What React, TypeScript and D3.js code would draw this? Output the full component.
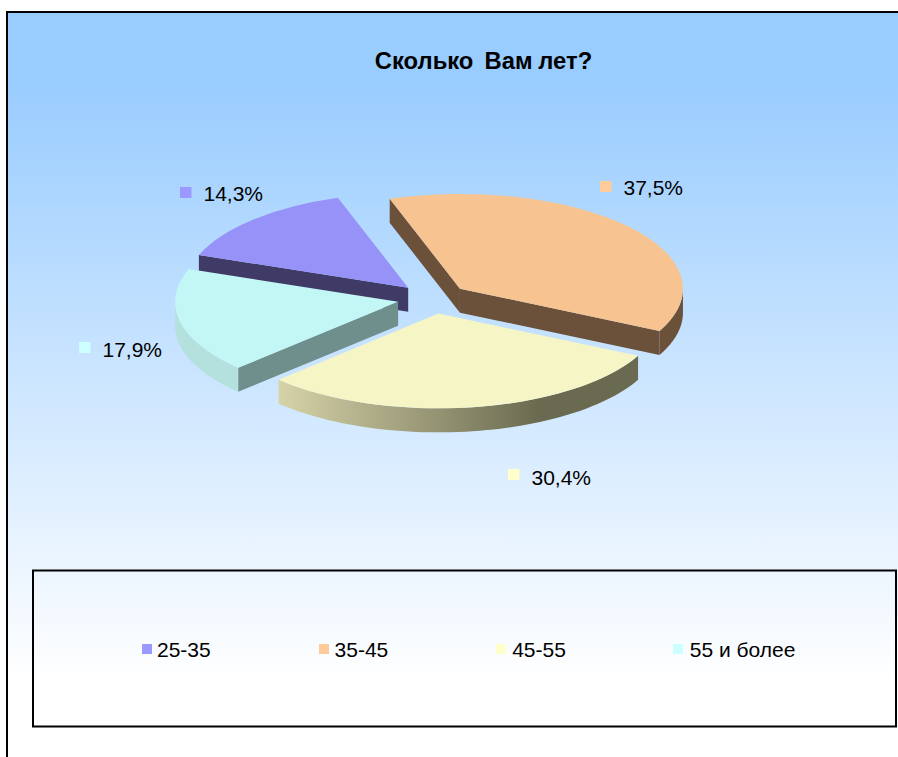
import React from 'react';
import * as d3 from 'd3';

const title = 'Сколько  Вам лет?';
const categories = ['25-35', '35-45', '45-55', '55 и более'];
const shares = [14.3, 37.5, 30.4, 17.9];

const keyColors = ['#9999ff', '#ffcc99', '#ffffcc', '#ccffff'];
const topColors = ['#9692f8', '#f6c391', '#f5f5c6', '#c3f7f5'];
const radialColors = ['#3f3b66', '#6b5139', '#6a6a50', '#6f8f8c'];
// [left, right] of the outer wall shading
const wallColors = [['#3f3b66', '#3f3b66'], ['#6b5139', '#6b5139'], ['#d8d5aa', '#6a6a50'], ['#b4e1dd', '#acd8d4']];
const labelSpots = [[180, 187], [600, 181], [508, 469], [79, 342]];
const labelDrop = [14.3, 14.3, 16, 15];

const width = 898;
const height = 757;
const cx = 433;
const cy = 298.6;
const rx = 223;
const tilt = 0.425;
const depth = 24;
const explode = 0.16;
const firstAngle = (-69.8 * Math.PI) / 180;

const pie = d3.pie<number>().sort(null).startAngle(firstAngle).endAngle(firstAngle + 2 * Math.PI);
const arcs = pie(shares);
const topArc = d3.arc<d3.PieArcDatum<number>>().innerRadius(0).outerRadius(rx);
const line = d3.line();
const pct = (v: number) => v.toFixed(1).replace('.', ',') + '%';

// centre of a slice after pulling it out along its mid angle
const centre = (a: d3.PieArcDatum<number>) => {
  const mid = (a.startAngle + a.endAngle) / 2;
  return [cx + rx * explode * Math.sin(mid), cy - rx * tilt * explode * Math.cos(mid)];
};
const rim = (c: number[], t: number): [number, number] => [c[0] + rx * Math.sin(t), c[1] - rx * tilt * Math.cos(t)];
const down = (p: number[]): [number, number] => [p[0], p[1] + depth];

// the part of the rim that faces the viewer (t between 90 and 270 degrees)
const outerWall = (a: d3.PieArcDatum<number>) => {
  const c = centre(a);
  const from = Math.max(a.startAngle, Math.PI / 2);
  const to = Math.min(a.endAngle, (3 * Math.PI) / 2);
  if (from >= to) return null;
  const top = d3.range(0, 61).map(i => rim(c, from + ((to - from) * i) / 60));
  return line([...top, ...top.slice().reverse().map(down)]) + 'Z';
};
const radialWall = (c: number[], t: number) => {
  const p = rim(c, t);
  return line([c as [number, number], p, down(p), down(c)]) + 'Z';
};

export default function App() {
  const font = '"Liberation Sans", Arial, sans-serif';
  return (
    <svg width={width} height={height} style={{ position: 'absolute', left: 0, top: 0 }} fontFamily={font}>
      <defs>
        <linearGradient id="bg" gradientUnits="userSpaceOnUse" x1="0" y1="80" x2="0" y2="680">
          <stop offset="0" stopColor="#99ccff" />
          <stop offset="1" stopColor="#ffffff" />
        </linearGradient>
        {arcs.map((a, i) => (
          <linearGradient key={i} id={`wall${i}`} gradientUnits="userSpaceOnUse"
            x1={centre(a)[0] - rx} x2={centre(a)[0] + rx * 0.45} y1="0" y2="0">
            <stop offset="0.18" stopColor={wallColors[i][0]} />
            <stop offset="1" stopColor={wallColors[i][1]} />
          </linearGradient>
        ))}
      </defs>

      <rect x={7} y={12} width={width} height={height} fill="url(#bg)" stroke="#000" strokeWidth={2} />

      <text x={483.5} y={69} textAnchor="middle" fontSize={23.8} fontWeight="bold" wordSpacing={-1} style={{ whiteSpace: 'pre' }}>{title}</text>

      {/* back slices first so the front ones cover them */}
      {arcs.map((a, i) => {
        const c = centre(a);
        const outer = outerWall(a);
        return (
          <g key={i}>
            {i === 0 && <path d={radialWall(c, a.startAngle)} fill={radialColors[i]} />}
            {i === 1 && <path d={radialWall(c, a.startAngle)} fill={radialColors[i]} />}
            {i === 1 && <path d={radialWall(c, a.endAngle)} fill={radialColors[i]} />}
            {i === 3 && <path d={radialWall(c, a.startAngle)} fill={radialColors[i]} />}
            {outer && <path d={outer} fill={`url(#wall${i})`} />}
            <path d={topArc(a) as string} transform={`translate(${c[0]},${c[1]}) scale(1,${tilt})`} fill={topColors[i]} />
          </g>
        );
      })}

      {shares.map((v, i) => (
        <g key={i}>
          <rect x={labelSpots[i][0]} y={labelSpots[i][1]} width={11.5} height={11} fill={keyColors[i]} />
          <text x={labelSpots[i][0] + 23.5} y={labelSpots[i][1] + labelDrop[i]} fontSize={21}>{pct(v)}</text>
        </g>
      ))}

      <rect x={33} y={570.5} width={863} height={156} fill="none" stroke="#000" strokeWidth={2} />
      {categories.map((c, i) => (
        <g key={c}>
          <rect x={142 + i * 177} y={644} width={10} height={10} fill={keyColors[i]} />
          <text x={157 + i * 177.6} y={657} fontSize={21}>{c}</text>
        </g>
      ))}
    </svg>
  );
}
